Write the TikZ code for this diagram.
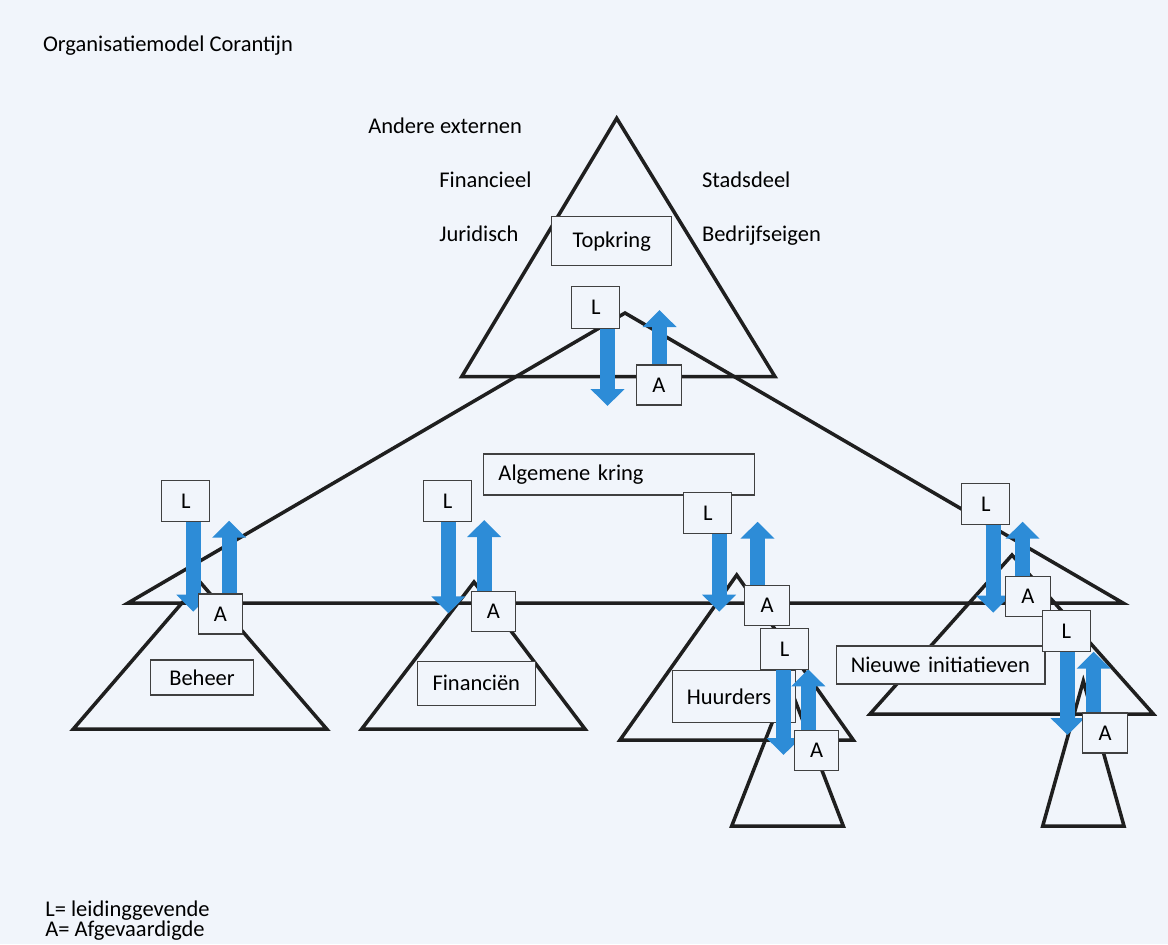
\documentclass[tikz,border=0pt]{standalone}
\usepackage{fontspec}
\setmainfont{Carlito}
\usetikzlibrary{arrows.meta}

\definecolor{papier}{RGB}{241,245,251}
\definecolor{pijlblauw}{RGB}{45,140,215}

\pgfdeclarelayer{achter}
\pgfdeclarelayer{kaders}
\pgfdeclarelayer{pijlen}
\pgfsetlayers{achter,kaders,pijlen,main}

\tikzstyle{kader}= [rectangle,draw=black!75,line width=0.6pt,fill=papier]
\tikzstyle{leider}= [kader,minimum width=0.96cm,minimum height=0.83cm,inner sep=0pt]
\tikzstyle{afgev}= [kader,minimum width=0.89cm,minimum height=0.80cm,inner sep=0pt]
\tikzstyle{tekst}= [inner sep=0pt,anchor=base west]
\tikzstyle{kring}= [draw=black!88,line width=2pt]
\tikzstyle{pijl}= [draw=pijlblauw,line width=0.3cm,-{Triangle[width=0.66cm,length=0.34cm]}]

\begin{document}
\begin{tikzpicture}[x=0.02cm,y=-0.02cm,every node/.style={font=\fontsize{12.8}{15}\selectfont}]

		\begin{pgfonlayer}{achter}
		\fill[papier] (0,0) rectangle (1168,944);

		% kringen
		\path[kring] (616.7,118.3) -- (461.7,376.7) -- (775,376.7) -- cycle;
		\path[kring] (625,313) -- (128,603) -- (1123,603) -- cycle;
		\path[kring] (200,582) -- (73.3,729) -- (326.7,729) -- cycle;
		\path[kring] (474,582) -- (361.7,729) -- (585,729) -- cycle;
		\path[kring] (736.7,575) -- (620,740) -- (853.3,740) -- cycle;
		\path[kring] (788,682) -- (731.7,826) -- (843.3,826) -- cycle;
		\path[kring] (1012,555) -- (870,714) -- (1153.3,714) -- cycle;
		\path[kring] (1083.3,681) -- (1042.7,826) -- (1124,826) -- cycle;
		\end{pgfonlayer}

		\begin{pgfonlayer}{kaders}
		\node (top) at (611.7,241.2) [kader,minimum width=2.4cm,minimum height=0.98cm] {Topkring};
		\node (alg) at (619.2,474.5) [kader,minimum width=5.43cm,minimum height=0.82cm,text width=4.83cm,align=left] {Algemene kring};
		\node (beh) at (202,677.5) [kader,minimum width=2.05cm,minimum height=0.7cm] {Beheer};
		\node (fin) at (476.3,683.3) [kader,minimum width=2.35cm,minimum height=0.87cm] {Financiën};
		\node (huu) at (733.8,696.7) [kader,minimum width=2.45cm,minimum height=1.04cm,text width=1.88cm,align=left] {Huurders};
		\node (nie) at (940.5,665) [kader,minimum width=4.18cm,minimum height=0.76cm,text width=3.59cm,align=left] {Nieuwe initiatieven};
		\end{pgfonlayer}

		\node (titel) at (42.7,51) [tekst] {Organisatiemodel Corantijn};
		\node (ext) at (368,133) [tekst] {Andere externen};
		\node (fie) at (439,187.3) [tekst] {Financieel};
		\node (jur) at (439,241.7) [tekst] {Juridisch};
		\node (sta) at (701.7,187.3) [tekst] {Stadsdeel};
		\node (bed) at (701.7,241.7) [tekst] {Bedrijfseigen};
		\node (legl) at (45,916.7) [tekst] {L= leidinggevende};
		\node (lega) at (45,936.7) [tekst] {A= Afgevaardigde};

		\node (l1) at (595.8,307.5) [leider] {L};
		\node (a1) at (658.8,385) [afgev] {A};
		\node (l2) at (185.8,500.8) [leider] {L};
		\node (a2) at (220.5,614) [afgev] {A};
		\node (l3) at (447.5,500.8) [leider] {L};
		\node (a3) at (493.3,611.7) [afgev] {A};
		\node (l4) at (707.8,512.8) [leider] {L};
		\node (a4) at (767.2,605.3) [afgev] {A};
		\node (l5) at (784.5,649.2) [leider] {L};
		\node (a5) at (816.7,750.7) [afgev] {A};
		\node (l6) at (985.8,504.2) [leider] {L};
		\node (a6) at (1027.8,596.7) [afgev] {A};
		\node (l7) at (1066.3,631.2) [leider] {L};
		\node (a7) at (1105,733) [afgev] {A};

		\coordinate (d1) at (607.5,406);
		\coordinate (u1) at (659.5,310);
		\coordinate (d2) at (193.3,611.7);
		\coordinate (u2) at (229.2,520.7);
		\coordinate (d3) at (448.3,613.3);
		\coordinate (u3) at (484.2,520);
		\coordinate (d4) at (719.2,611.7);
		\coordinate (u4) at (757.5,521.7);
		\coordinate (d5) at (783.5,755);
		\coordinate (u5) at (808.3,669.3);
		\coordinate (d6) at (993.2,612.7);
		\coordinate (u6) at (1022.5,521.7);
		\coordinate (d7) at (1067.5,735);
		\coordinate (u7) at (1093.7,651.7);

		\begin{pgfonlayer}{pijlen}
		\foreach \i in {1,...,7} {
			\path (l\i.south -| d\i) edge[pijl] node {} (d\i);
			\path (a\i.north -| u\i) edge[pijl] node {} (u\i);
		}
		\end{pgfonlayer}

	\end{tikzpicture}
\end{document}
